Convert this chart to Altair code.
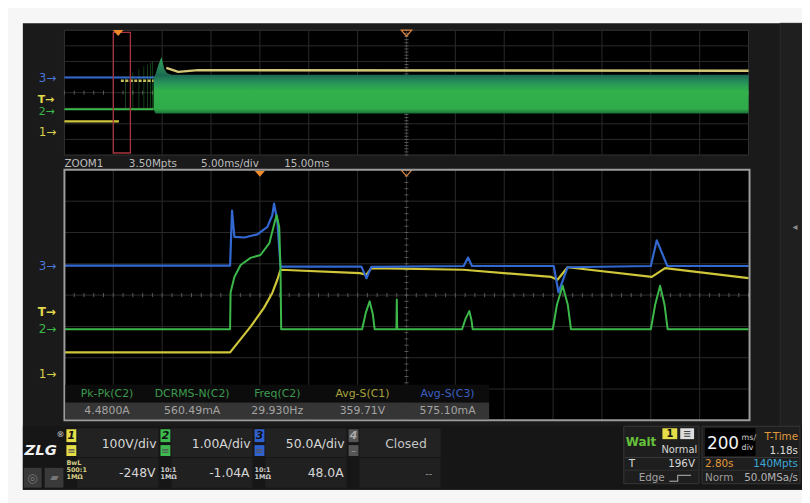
import altair as alt
import pandas as pd

# ---------------- values ----------------
# Zoom window (5 ms/div): time in ms after the trigger, level in divisions from graticule centre
zoom_t_ch3 = [-20, -3.05, -2.85, -2.61, -1.59, -0.25, 0.77, 1.27, 1.45, 1.78, 2.11, 10.39, 10.90, 11.40,
              20.85, 21.30, 21.70, 30.07, 30.55, 31.49, 40.0, 40.61, 41.69, 50]
zoom_v_ch3 = [0.94, 0.94, 2.70, 1.86, 1.84, 1.94, 2.18, 2.55, 2.92, 2.39, 0.91, 0.91, 0.54, 0.90,
              0.93, 1.20, 0.93, 0.93, 0.09, 0.89, 0.93, 1.75, 0.93, 0.93]
zoom_t_ch2 = [-20, -3.05, -3.0, -2.61, -1.97, -0.96, 0.06, 0.97, 1.48, 1.71, 1.98, 2.11, 2.18,
              10.46, 10.85, 11.23, 11.55, 11.74, 13.97, 14.01, 14.05, 20.69, 21.05, 21.43, 21.65, 21.77,
              29.97, 30.4, 30.98, 31.5, 31.83, 40.0, 40.45, 40.95, 41.4, 41.72, 50]
zoom_v_ch2 = [-1.09, -1.09, 0.08, 0.58, 0.96, 1.19, 1.28, 1.66, 2.29, 2.55, 2.17, 0.81, -1.09,
              -1.09, -0.55, -0.20, -0.60, -1.09, -1.09, -0.14, -1.09, -1.09, -0.75, -0.51, -0.80, -1.09,
              -1.09, -0.30, 0.30, -0.30, -1.09, -1.09, -0.30, 0.30, -0.30, -1.09, -1.09]
zoom_t_ch1 = [-20, -3.05, -0.93, 0.43, 1.27, 1.78, 2.11, 10.22, 10.90, 11.40, 20.8, 29.81, 30.45, 31.49,
              40.1, 41.46, 50]
zoom_v_ch1 = [-1.83, -1.83, -1.00, -0.40, 0.07, 0.49, 0.81, 0.70, 0.65, 0.86, 0.81, 0.58, 0.49, 0.89,
              0.58, 0.86, 0.54]

# Main timebase (200 ms/div): time in ms after the trigger
main_t_ch3 = [-220, 2580]
main_v_ch3 = [0.97, 0.97]
main_t_ch2 = [-220, 145]
main_v_ch2 = [-1.06, -1.06]
band_t_ch2 = [145, 153, 165, 177, 189, 200, 220, 2580]
band_top_ch2 = [0.90, 1.20, 1.80, 2.29, 1.50, 1.25, 1.14, 1.14]
band_bot_ch2 = [-1.06, -1.33, -1.33, -1.33, -1.33, -1.33, -1.33, -1.33]
spike_t_ch2 = [30, 60, 85, 105, 120, 132, 140]
spike_top_ch2 = [1.0, 1.3, 1.5, 1.7, 1.8, 1.9, 2.0]
main_t_ch1 = [-220, 3]
main_v_ch1 = [-1.84, -1.84]
main_t_ch1_dot = [11, 145]
main_v_ch1_dot = [0.76, 0.76]
main_t_ch1_run = [197, 246, 327, 2580]
main_v_ch1_run = [1.59, 1.33, 1.44, 1.40]

trigger_ms = 0
zoom_centre_ms = 15
zoom_half_ms = 35

meas_names = ["Pk-Pk(C2)", "DCRMS-N(C2)", "Freq(C2)", "Avg-S(C1)", "Avg-S(C3)"]
meas_values = ["4.4800A", "560.49mA", "29.930Hz", "359.71V", "575.10mA"]
meas_chan = ["C2", "C2", "C2", "C1", "C3"]
ch_names = ["1", "2", "3", "4"]
ch_scale = ["100V/div", "1.00A/div", "50.0A/div", "Closed"]
ch_offset = ["-248V", "-1.04A", "48.0A", "--"]

# ---------------- layout ----------------
W, H, OFF = 802, 495, 8
FONT = "DejaVu Sans"
C_BLUE, C_GREEN, C_YEL = "#3268d0", "#3cb84a", "#cfc63a"
CH_COL = {"C1": "#aaa23c", "C2": "#3d9a4e", "C3": "#3d5fc4"}
BOX_COL = ["#e6de48", "#3dbb50", "#2f60d0", "#555555"]


def px_x():
    return alt.Scale(domain=[OFF, OFF + W], zero=False, nice=False)


def px_y():
    return alt.Scale(domain=[OFF, OFF + H], reverse=True, zero=False, nice=False)


def dom_x(v0, v1, p0, p1):
    c0, c1 = p0 - OFF, p1 - OFF
    k = (c1 - c0) / (v1 - v0)
    return alt.Scale(domain=[v0 - c0 / k, v0 + (W - c0) / k], zero=False, nice=False)


def dom_y(v0, v1, p0, p1):
    q0, q1 = H - (p0 - OFF), H - (p1 - OFF)
    k = (q1 - q0) / (v1 - v0)
    return alt.Scale(domain=[v0 - q0 / k, v0 + (H - q0) / k], zero=False, nice=False)


ZX = lambda: dom_x(-20, 50, 65, 756)
ZY = lambda: dom_y(-4, 4, 422, 169)
MX = lambda: dom_x(-220, 2580, 65, 756)
MY = lambda: dom_y(-4, 4, 154, 28)

layers = []


def rects(rows, stroke=None, sw=1, filled=True):
    df = pd.DataFrame(rows, columns=["x", "x2", "y", "y2", "c"])
    kw = {}
    if stroke:
        kw.update(stroke=stroke, strokeWidth=sw)
    if not filled:
        kw.update(fillOpacity=0)
    layers.append(alt.Chart(df).mark_rect(**kw).encode(
        x=alt.X("x:Q", scale=px_x(), axis=None), x2="x2:Q",
        y=alt.Y("y:Q", scale=px_y(), axis=None), y2="y2:Q",
        fill=alt.Fill("c:N", scale=None)))


def texts(rows, align="left", weight="normal", style="normal", font=FONT):
    df = pd.DataFrame(rows, columns=["x", "y", "s", "c", "z"])
    layers.append(alt.Chart(df).mark_text(align=align, baseline="middle", fontWeight=weight,
                                          fontStyle=style, font=font).encode(
        x=alt.X("x:Q", scale=px_x(), axis=None),
        y=alt.Y("y:Q", scale=px_y(), axis=None),
        text="s:N", color=alt.Color("c:N", scale=None), size=alt.Size("z:Q", scale=None)))


def trace(t, v, color, xs, ys, width=2.0, dash=None, opacity=1.0):
    df = pd.DataFrame({"t": t, "v": v, "i": range(len(t))})
    kw = dict(color=color, strokeWidth=width, opacity=opacity, strokeJoin="round")
    if dash:
        kw["strokeDash"] = dash
    layers.append(alt.Chart(df).mark_line(**kw).encode(
        x=alt.X("t:Q", scale=xs, axis=None), y=alt.Y("v:Q", scale=ys, axis=None),
        order=alt.Order("i:Q")))


def vrules(ts, v0, v1, color, xs, ys, width=1.0, opacity=1.0):
    df = pd.DataFrame({"t": ts, "a": v0 if isinstance(v0, list) else [v0] * len(ts),
                       "b": v1 if isinstance(v1, list) else [v1] * len(ts)})
    layers.append(alt.Chart(df).mark_rule(color=color, strokeWidth=width, opacity=opacity).encode(
        x=alt.X("t:Q", scale=xs, axis=None), y=alt.Y("a:Q", scale=ys, axis=None), y2="b:Q"))


def hrules(vs, t0, t1, color, xs, ys, width=1.0):
    df = pd.DataFrame({"v": vs, "a": [t0] * len(vs), "b": [t1] * len(vs)})
    layers.append(alt.Chart(df).mark_rule(color=color, strokeWidth=width).encode(
        y=alt.Y("v:Q", scale=ys, axis=None), x=alt.X("a:Q", scale=xs, axis=None), x2="b:Q"))


def marker(t, v, xs, ys, filled, color):
    df = pd.DataFrame({"t": [t], "v": [v]})
    shape = "M-1,-0.55L1,-0.55L0,0.6Z"
    kw = dict(shape=shape, size=110, filled=filled, color=color, opacity=1)
    if not filled:
        kw.update(strokeWidth=1.3)
    layers.append(alt.Chart(df).mark_point(**kw).encode(
        x=alt.X("t:Q", scale=xs, axis=None), y=alt.Y("v:Q", scale=ys, axis=None)))


# ---------- frame / backgrounds ----------
rects([(23, 810, 21, 492, "#1a1a1a")])
rects([(788, 810, 21, 428, "#1f1f1f")], stroke="#2c2c2c")
rects([(65, 756, 28, 154, "#000000")], stroke="#343434")
rects([(65, 757, 169, 422, "#000000")])

# ---------- graticules ----------
GRID = "#2b2b2b"
TICK = "#5a5a5a"
for xs, ys, t0, step in [(MX, MY, -220, 200), (ZX, ZY, -20, 5)]:
    vrules([t0 + step * i for i in range(1, 14)], -4, 4, GRID, xs(), ys())
    hrules([-3, -2, -1, 0, 1, 2, 3], t0, t0 + 14 * step, GRID, xs(), ys())
# centre-line minor ticks
vrules([-220 + 40 * i for i in range(71)], -0.13, 0.13, TICK, MX(), MY())
hrules([-4 + 0.2 * i for i in range(41)], 1172, 1188, TICK, MX(), MY())
vrules([-20 + 1 * i for i in range(71)], -0.065, 0.065, TICK, ZX(), ZY())
hrules([-4 + 0.2 * i for i in range(41)], 14.8, 15.2, TICK, ZX(), ZY())

# ---------- main (overview) traces ----------
trace(main_t_ch3, main_v_ch3, C_BLUE, MX(), MY(), 2.0)
trace(main_t_ch2, main_v_ch2, C_GREEN, MX(), MY(), 2.0)
vrules(spike_t_ch2, -1.06, spike_top_ch2, C_GREEN, MX(), MY(), 1.0, 0.35)
band = pd.DataFrame({"t": band_t_ch2, "top": band_top_ch2, "bot": band_bot_ch2})
grad = alt.Gradient(gradient="linear", x1=0, x2=0, y1=0, y2=1, stops=[
    alt.GradientStop(color="#2ea85a", offset=0),
    alt.GradientStop(color="#1d6a52", offset=0.33),
    alt.GradientStop(color="#26925a", offset=0.45),
    alt.GradientStop(color="#31b14c", offset=0.6),
    alt.GradientStop(color="#2fab49", offset=0.92),
    alt.GradientStop(color="#1c7038", offset=1)])
layers.append(alt.Chart(band).mark_area(color=grad, opacity=1).encode(
    x=alt.X("t:Q", scale=MX(), axis=None), y=alt.Y("top:Q", scale=MY(), axis=None), y2="bot:Q"))
trace(main_t_ch1, main_v_ch1, C_YEL, MX(), MY(), 2.2)
trace(main_t_ch1_dot, main_v_ch1_dot, "#c8bd5c", MX(), MY(), 2.4, dash=[3, 1.5])
trace(main_t_ch1_run, main_v_ch1_run, "#d2c877", MX(), MY(), 2.4)

# zoom window outline on overview
zw = pd.DataFrame({"a": [zoom_centre_ms - zoom_half_ms], "b": [zoom_centre_ms + zoom_half_ms],
                   "lo": [-3.87], "hi": [3.87]})
layers.append(alt.Chart(zw).mark_rect(fillOpacity=0, stroke="#a8343f", strokeWidth=1.3).encode(
    x=alt.X("a:Q", scale=MX(), axis=None), x2="b:Q",
    y=alt.Y("lo:Q", scale=MY(), axis=None), y2="hi:Q"))

marker(trigger_ms, 3.84, MX(), MY(), True, "#f08a2a")
marker(1180, 3.82, MX(), MY(), False, "#d9803a")

# ---------- zoom traces ----------
trace(zoom_t_ch1, zoom_v_ch1, C_YEL, ZX(), ZY(), 2.2)
trace(zoom_t_ch3, zoom_v_ch3, C_BLUE, ZX(), ZY(), 2.2)
trace(zoom_t_ch2, zoom_v_ch2, C_GREEN, ZX(), ZY(), 2.0)
marker(trigger_ms, 3.88, ZX(), ZY(), True, "#f08a2a")
marker(zoom_centre_ms, 3.9, ZX(), ZY(), False, "#d9803a")

# lower graticule frame (on top)
rects([(65, 757, 169, 422, "#000000")], stroke="#9c9c9c", sw=2, filled=False)

# ---------- measurement table ----------
rects([(66, 494, 386, 404, "#0c0c0c")])
rects([(66, 494, 404, 421, "#353535")])
mx = [108 + 86 * i for i in range(len(meas_names))]
texts([(mx[i], 395, meas_names[i], CH_COL[meas_chan[i]], 11) for i in range(len(meas_names))], align="center")
texts([(mx[i], 412.5, meas_values[i], "#a4a4a4", 11) for i in range(len(meas_values))], align="center")

# ---------- status line & channel markers ----------
texts([(65, 163, "ZOOM1", "#bdbdbd", 10.5), (130, 163, "3.50Mpts", "#bdbdbd", 10.5),
       (203, 163, "5.00ms/div", "#bdbdbd", 10.5), (287, 163, "15.00ms", "#bdbdbd", 10.5)])
texts([(39, 76, "3→", "#4a76d6", 12), (39, 111, "2→", C_GREEN, 11), (39, 131, "1→", "#d8d04a", 12),
       (39, 266, "3→", "#4a76d6", 12), (39, 330, "2→", C_GREEN, 12), (39, 375, "1→", "#d8d04a", 12)])
texts([(38, 98.5, "T→", "#e2da4c", 11), (38, 313, "T→", "#e2da4c", 12)], weight="bold")
texts([(803, 227, "◂", "#888888", 10)], align="center")

# ---------- bottom control bar ----------
rects([(23, 810, 428, 492, "#161616")])
cells = []
boxes = []
for i in range(4):
    bx = 67 + 95 * i
    cells += [(bx + 11, bx + 93, 430, 459, "#222222"), (bx + 11, bx + 93, 460, 490, "#202020")]
    boxes += [(bx, bx + 10, 431, 444, BOX_COL[i]), (bx, bx + 10, 447, 458, BOX_COL[i])]
rects(cells)
rects(boxes)
texts([(72 + 95 * i, 437.5, ch_names[i], "#111111" if i < 3 else "#aaaaaa", 11) for i in range(4)],
      align="center", weight="bold", style="italic")
texts([(72 + 95 * i, 452.5, "≡" if i < 3 else "–", "#555555" if i < 3 else "#999999", 10) for i in range(4)],
      align="center")
texts([(158 + 95 * i, 446, ch_scale[i], "#d6d6d6", 12.5) for i in range(3)], align="right")
texts([(157 + 95 * i, 475, ch_offset[i], "#d6d6d6", 12.5) for i in range(3)], align="right")
texts([(410, 446, ch_scale[3], "#c4c4c4", 12.5), (433, 476, ch_offset[3], "#8a8a8a", 10)], align="center")
texts([(67, 465, "BwL", "#d8cf86", 6.5), (67, 472, "500:1", "#d8cf86", 6.5), (67, 479.5, "1MΩ", "#d8cf86", 6.5),
       (162, 472, "10:1", "#cfcfcf", 6.5), (162, 479.5, "1MΩ", "#cfcfcf", 6.5),
       (257, 472, "10:1", "#cfcfcf", 6.5), (257, 479.5, "1MΩ", "#cfcfcf", 6.5)], weight="bold")
texts([(41, 452, "ZLG", "#f0f0f0", 15)], align="center", weight="bold", style="italic")
texts([(61, 437, "®", "#e0e0e0", 8)], align="center")
rects([(24, 42, 470, 490, "#3a3a3a"), (45, 64, 470, 490, "#3a3a3a")])
texts([(33, 480, "◎", "#777777", 12), (55, 480, "▰", "#777777", 11)], align="center")

# trigger / acquisition panels
rects([(630, 706, 428, 486, "#1e1e1e"), (709, 808, 428, 486, "#1e1e1e")], stroke="#383838")
rects([(631, 705, 459, 460, "#383838"), (710, 807, 459, 460, "#383838"),
       (631, 705, 472, 473, "#303030"), (710, 807, 472, 473, "#303030")])
rects([(712, 763, 430, 458, "#000000")])
rects([(669, 684, 430, 441, "#e6de48"), (687, 701, 430, 441, "#dddddd")])
texts([(676.5, 435.5, "1", "#111111", 10), (694, 435.5, "≡", "#444444", 10)], align="center", weight="bold")
texts([(632, 444, "Wait", "#66c23a", 12)], weight="bold")
texts([(668, 452, "Normal", "#d8d8d8", 10), (635, 466.5, "T", "#d8d8d8", 10.5), (645, 480, "Edge", "#a0a0a0", 10.5),
       (714, 446, "200", "#f2f2f2", 17), (749, 440, "ms/", "#d0d0d0", 8), (749, 450, "div", "#d0d0d0", 8),
       (712, 466.5, "2.80s", "#e09a3a", 10.5), (712, 480, "Norm", "#9a9a9a", 10.5)])
texts([(702, 466.5, "196V", "#d8d8d8", 10.5), (806, 439, "T-Time", "#e09a3a", 10.5),
       (806, 452.5, "1.18s", "#d8d8d8", 10.5), (806, 466.5, "140Mpts", "#3fa6d6", 10.5),
       (806, 480, "50.0MSa/s", "#b4b4b4", 10.5)], align="right")
rects([(676, 684, 483, 484, "#bbbbbb"), (684, 685, 477, 484, "#bbbbbb"), (685, 698, 477, 478, "#bbbbbb")])

chart = alt.layer(*layers).resolve_scale(x="independent", y="independent").properties(
    width=W, height=H, padding=0, background="#f6f6f6",
    autosize=alt.AutoSizeParams(type="none")
).configure_view(stroke=None)

chart.save("out.html", embed_options={"renderer": "svg", "actions": False})
